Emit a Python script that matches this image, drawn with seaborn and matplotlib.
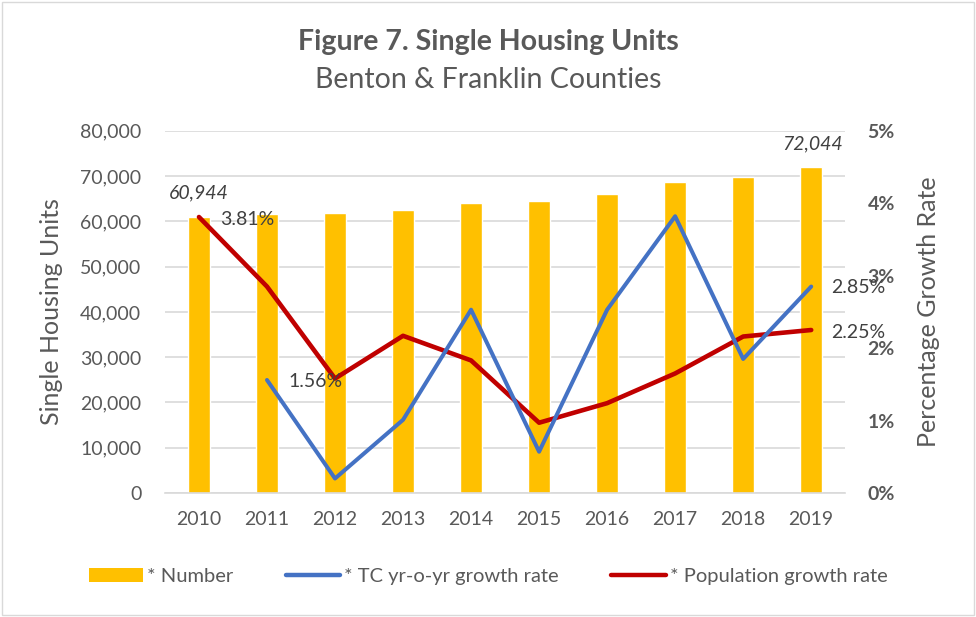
import pandas as pd
import numpy as np
import matplotlib
matplotlib.use("Agg")
import matplotlib.pyplot as plt
import seaborn as sns
from matplotlib.patches import Patch, Rectangle
from matplotlib.lines import Line2D
from matplotlib.ticker import FuncFormatter

years = ["2010", "2011", "2012", "2013", "2014", "2015", "2016", "2017", "2018", "2019"]
units = [60944, 61650, 61900, 62550, 64100, 64500, 66100, 68650, 69900, 72044]
tc_growth = [np.nan, 1.56, 0.20, 1.01, 2.53, 0.57, 2.53, 3.82, 1.85, 2.85]
pop_growth = [3.81, 2.85, 1.58, 2.17, 1.83, 0.97, 1.24, 1.65, 2.16, 2.25]

df = pd.DataFrame({"year": years, "units": units,
                   "tc": tc_growth, "pop": pop_growth})
df["pos"] = np.arange(len(df))

sns.set_style("white")
plt.rcParams["font.family"] = ["Lato", "DejaVu Sans"]
grey = "#595959"
gold = "#FFC000"
blue = "#4472C4"
red = "#C00000"

fig = plt.figure(figsize=(9.76, 6.17), dpi=100)
ax = fig.add_axes([0.169, 0.201, 0.697, 0.587])

sns.barplot(data=df, x="year", y="units", color=gold, width=0.32,
            saturation=1, ax=ax, zorder=2)
ax.set_ylim(0, 80000)
ax.set_xlim(-0.5, 9.5)
ax.set_yticks(range(0, 80001, 10000))
ax.yaxis.set_major_formatter(FuncFormatter(lambda v, p: f"{int(v):,}"))
ax.grid(axis="y", color="#D9D9D9", linewidth=1.2, zorder=0)
ax.set_axisbelow(True)
for s in ["top", "right", "left"]:
    ax.spines[s].set_visible(False)
ax.spines["bottom"].set_color("#D9D9D9")
ax.spines["bottom"].set_linewidth(1.2)
ax.tick_params(axis="both", length=0, labelsize=14, colors=grey)
ax.tick_params(axis="y", pad=17)
ax.tick_params(axis="x", pad=13)
ax.set_xlabel("")
ax.set_ylabel("Single Housing Units", fontsize=18, color=grey, labelpad=12)

ax2 = ax.twinx()
sns.lineplot(data=df, x="pos", y="pop", color=red, linewidth=3.3, ax=ax2, sort=False)
sns.lineplot(data=df.dropna(subset=["tc"]), x="pos", y="tc", color=blue,
             linewidth=2.9, ax=ax2, sort=False)
ax2.set_ylim(0, 5)
ax2.set_xlim(-0.5, 9.5)
ax2.set_yticks([0, 1, 2, 3, 4, 5])
ax2.yaxis.set_major_formatter(FuncFormatter(lambda v, p: f"{int(v)}%"))
for s in ["top", "right", "left", "bottom"]:
    ax2.spines[s].set_visible(False)
ax2.tick_params(axis="y", length=0, labelsize=14, colors=grey, pad=16)
for t in ax2.get_yticklabels():
    t.set_fontweight("bold")
ax2.set_xlabel("")
ax2.set_ylabel("Percentage Growth Rate", fontsize=18, color=grey, labelpad=16)

# data labels
lab = dict(fontsize=14, color="#404040", va="center")
ax.text(0, units[0] + 5300, f"{units[0]:,}", ha="center", style="italic", **lab)
ax.text(9.02, units[-1] + 5100, f"{units[-1]:,}", ha="center", style="italic", **lab)
ax2.text(0.71, 3.77, f"{pop_growth[0]:.2f}%", ha="center", **lab)
ax2.text(1.71, 1.54, f"{tc_growth[1]:.2f}%", ha="center", **lab)
ax2.text(9.3, tc_growth[-1] - 0.02, f"{tc_growth[-1]:.2f}%", ha="left", **lab)
ax2.text(9.3, pop_growth[-1] - 0.03, f"{pop_growth[-1]:.2f}%", ha="left", **lab)

fig.text(0.5, 0.932, "Figure 7. Single Housing Units", ha="center", va="center",
         fontsize=20.5, fontweight="bold", color=grey)
fig.text(0.5, 0.870, "Benton & Franklin Counties", ha="center", va="center",
         fontsize=20.5, color=grey)

handles = [Patch(facecolor=gold, edgecolor="none"),
           Line2D([0], [0], color=blue, linewidth=3.2),
           Line2D([0], [0], color=red, linewidth=3.2)]
labels = ["* Number", "* TC yr-o-yr growth rate", "* Population growth rate"]
fig.legend(handles, labels, loc="center", bbox_to_anchor=(0.5, 0.065), ncol=3,
           frameon=False, fontsize=14.5, labelcolor=grey, handlelength=2.7,
           handletextpad=0.2, columnspacing=2.6)

fig.patches.append(Rectangle((0.002, 0.003), 0.996, 0.994, transform=fig.transFigure,
                             fill=False, edgecolor="#D9D9D9", linewidth=1))

fig.savefig("out.png", dpi=100)
